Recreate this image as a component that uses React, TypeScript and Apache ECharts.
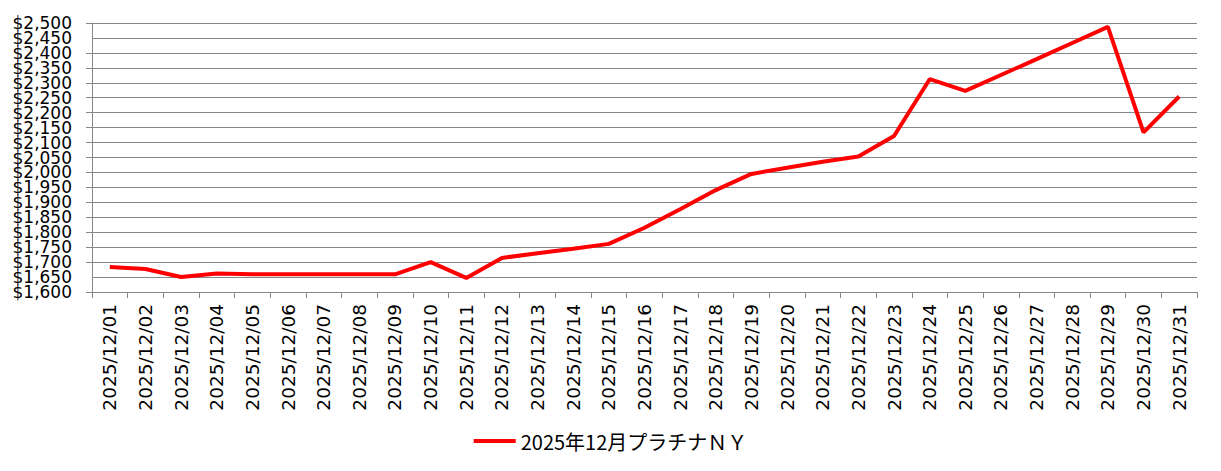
import React, { useEffect, useRef } from "react";
import * as echarts from "echarts";

const categories: string[] = [
  "2025/12/01", "2025/12/02", "2025/12/03", "2025/12/04", "2025/12/05", "2025/12/06",
  "2025/12/07", "2025/12/08", "2025/12/09", "2025/12/10", "2025/12/11", "2025/12/12",
  "2025/12/13", "2025/12/14", "2025/12/15", "2025/12/16", "2025/12/17", "2025/12/18",
  "2025/12/19", "2025/12/20", "2025/12/21", "2025/12/22", "2025/12/23", "2025/12/24",
  "2025/12/25", "2025/12/26", "2025/12/27", "2025/12/28", "2025/12/29", "2025/12/30",
  "2025/12/31",
];

const seriesName = "2025年12月プラチナＮＹ";

const prices: number[] = [
  1684, 1677, 1650, 1662, 1659, 1659, 1659, 1659, 1659, 1700, 1647, 1714,
  1730, 1745, 1761, 1815, 1877, 1941, 1995, 2016, 2036, 2053, 2122, 2312,
  2273, 2326, 2379, 2433, 2487, 2134, 2254,
];

const yMin = 1600;
const yMax = 2500;
const yStep = 50;

const fmt = (v: number) => "$" + v.toLocaleString("en-US");

export default function App() {
  const ref = useRef<HTMLDivElement>(null);
  useEffect(() => {
    document.body.style.margin = "0";
    if (!ref.current) return;
    const chart = echarts.init(ref.current, null, { renderer: "svg" });
    const gray = "#878787";
    const labelBase = {
      margin: 20,
      color: "#000",
      fontFamily: "'DejaVu Sans', sans-serif",
      fontSize: 17,
    };
    chart.setOption({
      animation: false,
      backgroundColor: "#ffffff",
      grid: { left: 92, right: 24, top: 23, bottom: 179, containLabel: false },
      legend: {
        data: [seriesName],
        top: 426,
        left: "center",
        itemWidth: 42,
        itemHeight: 4,
        itemGap: 4,
        icon: "rect",
        textStyle: { fontFamily: "'Noto Sans CJK JP', sans-serif", fontSize: 20, color: "#000" },
      },
      xAxis: {
        type: "category",
        data: categories,
        boundaryGap: true,
        axisLine: { lineStyle: { color: gray, width: 1 } },
        axisTick: { show: true, interval: 0, length: 6, lineStyle: { color: gray } },
        axisLabel: {
          interval: 0,
          rotate: 90,
          margin: 12,
          color: "#000",
          fontFamily: "'DejaVu Sans', sans-serif",
          fontSize: 18.5,
        },
      },
      yAxis: [
        {
          type: "value",
          min: yMin,
          max: yMax,
          interval: yStep,
          position: "left",
          axisLine: { show: true, lineStyle: { color: gray, width: 1 } },
          axisTick: { show: true, length: 6, lineStyle: { color: gray } },
          splitLine: { show: true, lineStyle: { color: gray, width: 1 } },
          axisLabel: {
            ...labelBase,
            showMinLabel: true,
            showMaxLabel: true,
            formatter: fmt,
          },
        },
        {
          type: "value",
          min: yMin,
          max: yMax,
          interval: yStep,
          position: "left",
          offset: 0,
          axisLine: { show: false },
          axisTick: { show: false },
          splitLine: { show: false },
          axisLabel: {
            ...labelBase,
            showMinLabel: false,
            showMaxLabel: false,
            formatter: (v: number) =>
              v === yMin + yStep || v === yMax - yStep ? fmt(v) : "",
          },
        },
      ],
      series: [
        {
          name: seriesName,
          type: "line",
          yAxisIndex: 0,
          data: prices,
          symbol: "none",
          lineStyle: { color: "#ff0000", width: 4 },
          itemStyle: { color: "#ff0000" },
        },
      ],
    });
    return () => chart.dispose();
  }, []);
  return <div ref={ref} style={{ width: 1221, height: 471 }} />;
}
